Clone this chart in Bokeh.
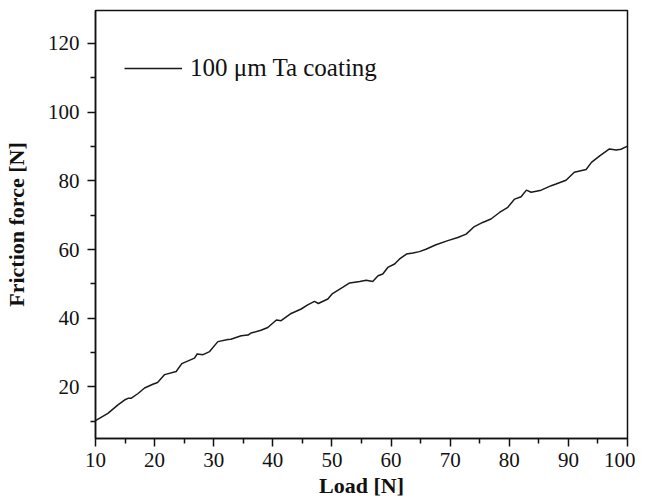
from bokeh.plotting import figure
from bokeh.models import FixedTicker, Legend, LegendItem, Range1d
from bokeh.embed import file_html
from bokeh.resources import INLINE

load = [10.0, 12.1, 13.8, 14.9, 15.5, 16.0, 17.2, 18.3, 19.7, 20.5, 21.7, 23.65, 24.6,
        26.75, 27.2, 28.2, 29.3, 30.7, 32.4, 32.9, 34.65, 35.8, 36.3, 38.0, 39.15, 40.6,
        41.4, 43.1, 44.8, 45.9, 47.05, 47.7, 49.3, 50.1, 51.8, 53.0, 54.7, 55.8, 56.9,
        57.8, 58.6, 59.45, 60.6, 61.4, 62.6, 63.7, 64.8, 65.9, 67.6, 69.6, 71.3, 72.7,
        74.1, 75.5, 76.9, 78.35, 79.75, 80.9, 82.0, 82.9, 83.7, 85.4, 87.1, 87.9, 89.6,
        91.0, 93.0, 93.9, 95.3, 96.95, 98.1, 98.9, 100.0]
friction = [10.2, 12.3, 14.8, 16.2, 16.7, 16.7, 18.1, 19.7, 20.8, 21.3, 23.6, 24.5, 26.8,
            28.4, 29.6, 29.4, 30.3, 33.2, 33.8, 33.9, 34.9, 35.1, 35.7, 36.5, 37.3, 39.5,
            39.3, 41.4, 42.7, 43.9, 44.9, 44.3, 45.6, 47.2, 49.0, 50.3, 50.7, 51.1, 50.7,
            52.4, 52.9, 54.8, 55.8, 57.2, 58.7, 59.0, 59.4, 60.1, 61.4, 62.6, 63.5, 64.5,
            66.7, 67.9, 68.9, 70.8, 72.3, 74.7, 75.4, 77.3, 76.7, 77.3, 78.6, 79.1, 80.2,
            82.5, 83.3, 85.4, 87.3, 89.3, 89.0, 89.2, 90.1]

x_ticks = [10, 20, 30, 40, 50, 60, 70, 80, 90, 100]
x_minor = [15, 25, 35, 45, 55, 65, 75, 85, 95]
y_ticks = [20, 40, 60, 80, 100, 120]
y_minor = [10, 30, 50, 70, 90, 110]
series_label = "100 \u03bcm Ta coating"

FONT = "'Liberation Serif', 'Times New Roman', serif"

p = figure(frame_width=532, frame_height=428, output_backend="svg", toolbar_location=None,
           x_range=Range1d(10, 100), y_range=Range1d(5, 129.6),
           min_border_left=93, min_border_right=8, min_border_top=10, min_border_bottom=50)

p.grid.visible = False
p.background_fill_color = "white"
p.border_fill_color = "white"
p.outline_line_color = "#111111"
p.outline_line_width = 1.5

r = p.line(load, friction, line_color="#1a1a1a", line_width=1.5)

for ax in (p.xaxis[0], p.yaxis[0]):
    ax.axis_line_color = "#111111"
    ax.axis_line_width = 1.5
    ax.major_tick_line_color = "#111111"
    ax.major_tick_line_width = 1.5
    ax.minor_tick_line_color = "#111111"
    ax.minor_tick_line_width = 1.5
    ax.major_tick_in = 0
    ax.major_tick_out = 8
    ax.minor_tick_in = 0
    ax.minor_tick_out = 5
    ax.major_label_text_font = FONT
    ax.major_label_text_font_size = "21px"
    ax.major_label_text_color = "#111111"
    ax.axis_label_text_font = FONT
    ax.axis_label_text_font_size = "22px"
    ax.axis_label_text_font_style = "bold"
    ax.axis_label_text_color = "#111111"

p.xaxis[0].ticker = FixedTicker(ticks=x_ticks, minor_ticks=x_minor)
p.yaxis[0].ticker = FixedTicker(ticks=y_ticks, minor_ticks=y_minor)
p.xaxis[0].axis_label = "Load [N]"
p.yaxis[0].axis_label = "Friction force [N]"
p.xaxis[0].major_label_standoff = 6
p.xaxis[0].axis_label_standoff = 3
p.yaxis[0].major_label_standoff = 8
p.yaxis[0].axis_label_standoff = 16

legend = Legend(items=[LegendItem(label=series_label, renderers=[r])],
                location=(29, 356), margin=0, padding=0, glyph_width=58, glyph_height=20,
                label_standoff=8, border_line_alpha=0, background_fill_alpha=0,
                label_text_font=FONT, label_text_font_size="25px", label_text_color="#111111")
p.add_layout(legend, "center")

open("out.html", "w").write(file_html(p, INLINE))
